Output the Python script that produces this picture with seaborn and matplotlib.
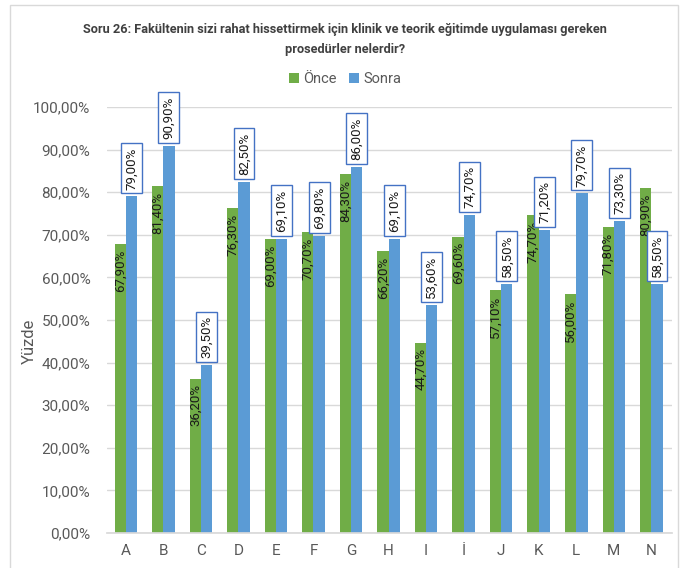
import matplotlib
matplotlib.use("Agg")
import matplotlib.pyplot as plt
import seaborn as sns
import pandas as pd
from matplotlib.patches import Rectangle

categories = ["A", "B", "C", "D", "E", "F", "G", "H", "I", "İ", "J", "K", "L", "M", "N"]
once = [67.9, 81.4, 36.2, 76.3, 69.0, 70.7, 84.3, 66.2, 44.7, 69.6, 57.1, 74.7, 56.0, 71.8, 80.9]
sonra = [79.0, 90.9, 39.5, 82.5, 69.1, 69.8, 86.0, 69.1, 53.6, 74.7, 58.5, 71.2, 79.7, 73.3, 58.5]
series = ["Önce", "Sonra"]
yticks = list(range(0, 101, 10))

GREEN = "#70AD47"
BLUE = "#5B9BD5"

sns.set_theme(style="white")
plt.rcParams["font.family"] = ["Roboto", "DejaVu Sans"]

df = pd.DataFrame({
    "cat": categories * 2,
    "val": once + sonra,
    "ser": [series[0]] * len(categories) + [series[1]] * len(categories),
})

fig = plt.figure(figsize=(6.9, 5.68), dpi=100)
ax = fig.add_axes([107 / 690, 1 - 533 / 568, (672 - 107) / 690, (533 - 107) / 568])

sns.barplot(data=df, x="cat", y="val", hue="ser", order=categories,
            hue_order=series, palette=[GREEN, BLUE], width=0.6,
            saturation=1, ax=ax, legend=True, linewidth=0)

ax.set_ylim(0, 100)
ax.set_xlim(-0.5, 14.55)
ax.set_yticks(yticks)
ax.set_yticklabels([f"{t},00%" for t in yticks], color="#595959", fontsize=11)
ax.tick_params(axis="x", colors="#595959", labelsize=11, length=0, pad=8)
ax.tick_params(axis="y", length=0, pad=12)
ax.grid(axis="y", color="#D9D9D9", linewidth=1)
ax.set_axisbelow(True)
for s in ["top", "right", "left"]:
    ax.spines[s].set_visible(False)
ax.spines["bottom"].set_color("#D9D9D9")
ax.set_xlabel("")
ax.set_ylabel("Yüzde", color="#595959", fontsize=12)
ax.yaxis.set_label_coords(-0.125, 0.45)

# data labels
for i in range(len(categories)):
    xg = i - 0.15
    xb = i + 0.15
    ax.annotate(f"{once[i]:.2f}%".replace(".", ","), (xg, once[i]),
                xytext=(0, -4), textcoords="offset points", rotation=90,
                ha="center", va="top", fontsize=9.5, color="#1a1a1a")
    ax.annotate(f"{sonra[i]:.2f}%".replace(".", ","), (xb, sonra[i]),
                xytext=(0, 5), textcoords="offset points", rotation=90,
                ha="center", va="bottom", fontsize=9.5, color="#1a1a1a",
                annotation_clip=False,
                bbox=dict(boxstyle="square,pad=0.3", fc="white", ec="#4472C4", lw=1))

leg = ax.legend(loc="center", bbox_to_anchor=(0.5, 1 - 79 / 568), bbox_transform=fig.transFigure,
                ncol=2, frameon=False, fontsize=10.5, handlelength=0.7, handleheight=0.7,
                handletextpad=0.3, columnspacing=0.8)
for t in leg.get_texts():
    t.set_color("#595959")

fig.text(0.5, 1 - 40 / 568,
         "Soru 26: Fakültenin sizi rahat hissettirmek için klinik ve teorik eğitimde uygulaması gereken\nprosedürler nelerdir?",
         ha="center", va="center", fontsize=9.2, fontweight="bold", color="#404040",
         linespacing=1.7)

fig.patches.append(Rectangle((10 / 690, -0.05), (678 - 10) / 690, 1.05 - 5 / 568,
                             transform=fig.transFigure, fill=False,
                             edgecolor="#D9D9D9", linewidth=1))

fig.savefig("out.png", dpi=100)
